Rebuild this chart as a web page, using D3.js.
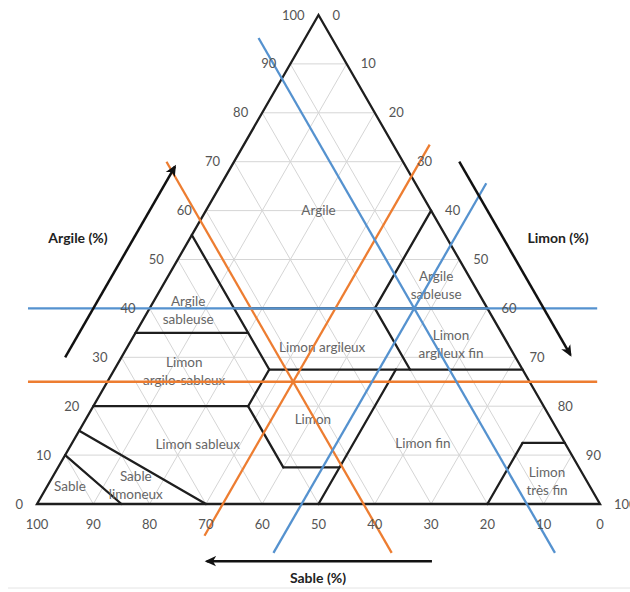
<!DOCTYPE html>
<html>
<head>
<meta charset="utf-8">
<script src="https://cdn.jsdelivr.net/npm/d3@7"></script>
<style>
  body { margin: 0; background: #fff; }
  svg { display: block; font-family: Lato, "Open Sans", sans-serif; }
</style>
</head>
<body>
<svg id="chart" width="630" height="592"></svg>
<script>
// Percentage ticks shared by the three axes
const argileTicks = [0, 10, 20, 30, 40, 50, 60, 70, 80, 90, 100];
const limonTicks  = [0, 10, 20, 30, 40, 50, 60, 70, 80, 90, 100];
const sableTicks  = [100, 90, 80, 70, 60, 50, 40, 30, 20, 10, 0];
const gridLevels  = [10, 20, 30, 40, 50, 60, 70, 80, 90];

// Texture class boundaries: each segment joins two compositions [argile, limon]
const boundaries = [
  [[10, 0],    [0, 15]],      // Sable | Sable limoneux
  [[15, 0],    [0, 30]],      // Sable limoneux | Limon sableux
  [[20, 0],    [20, 27.5]],   // Limon sableux | Limon argilo-sableux
  [[35, 0],    [35, 20]],     // Limon argilo-sableux | Argile sableuse
  [[55, 0],    [27.5, 27.5]], // sable 45 %
  [[27.5, 27.5], [20, 27.5]], // limon 27.5 %
  [[20, 27.5], [7.5, 40]],    // sable 52.5 %
  [[7.5, 40],  [7.5, 50]],    // argile 7.5 %
  [[0, 50],    [27.5, 50]],   // limon 50 %
  [[27.5, 27.5], [27.5, 72.5]], // argile 27.5 %
  [[40, 15],   [40, 60]],     // argile 40 %
  [[60, 40],   [40, 40]],     // limon 40 %
  [[40, 40],   [27.5, 52.5]], // sable 20 %
  [[0, 80],    [12.5, 80]],   // limon 80 %
  [[12.5, 80], [12.5, 87.5]]  // argile 12.5 %
];

// Class names and the composition [argile, limon] where each name sits
const classNames = [
  "Argile", "Argile\nsableuse", "Limon\nargilo-sableux", "Limon argileux",
  "Argile\nsableuse", "Limon\nargileux fin", "Limon", "Limon sableux",
  "Limon fin", "Sable", "Sable\nlimoneux", "Limon\ntrès fin"
];
const classAnchors = [
  [60, 20], [39.5, 7.1], [27.1, 12.6], [32.1, 34.6],
  [44.6, 48.6], [32.7, 57.2], [17.2, 40.4], [12.1, 22.5],
  [12.3, 62.4], [3.5, 4.1], [3.7, 15.7], [4.6, 88.3]
];

// Two samples read on the triangle: [argile, limon, sable]
const sampleNames = ["orange", "bleu"];
const sampleArgile = [25, 40];
const sampleLimon  = [33, 47];
const sampleSable  = [42, 13];
const sampleColors = ["#ed7d31", "#5592cf"];
// Extent of each reading line: horizontal lines in limon, oblique lines in argile
const horizExtent  = [[-14.1, 87], [-21.6, 79.5]];
const sableExtent  = [[70, -10], [95.3, -10]];
const limonExtent  = [[73.5, -6.5], [65.6, -10]];

const svg = d3.select("#chart");

// Horizontal position follows limon + argile/2, vertical follows argile
const xs = d3.scaleLinear().domain([0, 100]).range([37, 600]);
const ys = d3.scaleLinear().domain([0, 100]).range([504, 15]);
const pt = (a, l) => [xs(l + a / 2), ys(a)];
const line = d3.line();

// Light triangular grid
const grid = svg.append("g").attr("stroke", "#d5d5d5").attr("stroke-width", 1).attr("fill", "none");
gridLevels.forEach(v => {
  grid.append("path").attr("d", line([pt(v, 0), pt(v, 100 - v)]));       // argile constant
  grid.append("path").attr("d", line([pt(0, v), pt(100 - v, v)]));       // limon constant
  grid.append("path").attr("d", line([pt(100 - v, 0), pt(0, 100 - v)])); // sable constant
});

// Class boundaries
const bnd = svg.append("g").attr("stroke", "#1e1e1e").attr("stroke-width", 2.3)
  .attr("fill", "none").attr("stroke-linecap", "round").attr("stroke-linejoin", "round");
boundaries.forEach(([p, q]) => bnd.append("path").attr("d", line([pt(p[0], p[1]), pt(q[0], q[1])])));

// Triangle outline
svg.append("path")
  .attr("d", line([pt(0, 0), pt(100, 0), pt(0, 100)]) + "Z")
  .attr("fill", "none").attr("stroke", "#1e1e1e").attr("stroke-width", 2.3)
  .attr("stroke-linejoin", "miter");

// Class names
const lbl = svg.append("g").attr("fill", "#666").attr("font-size", 13.5).attr("text-anchor", "middle");
classNames.forEach((name, i) => {
  const [x, y] = pt(classAnchors[i][0], classAnchors[i][1]);
  const rows = name.split("\n");
  const t = lbl.append("text").attr("x", x).attr("y", y);
  rows.forEach((r, k) => {
    t.append("tspan").attr("x", x)
      .attr("dy", k === 0 ? (-(rows.length - 1) * 9 + 4.5) + "px" : "18px")
      .text(r);
  });
});

// Reading lines for each sample
sampleNames.forEach((n, i) => {
  const g = svg.append("g").attr("stroke", sampleColors[i]).attr("stroke-width", 2.3).attr("fill", "none");
  const a = sampleArgile[i], l = sampleLimon[i], s = sampleSable[i];
  g.append("path").attr("d", line([pt(a, horizExtent[i][0]), pt(a, horizExtent[i][1])]));
  const [c1, c2] = sableExtent[i];
  g.append("path").attr("d", line([pt(c1, 100 - s - c1), pt(c2, 100 - s - c2)]));
  const [d1, d2] = limonExtent[i];
  g.append("path").attr("d", line([pt(d1, l), pt(d2, l)]));
});

// Tick labels
const tk = svg.append("g").attr("fill", "#555").attr("font-size", 13);
argileTicks.forEach(v => {
  const [x, y] = pt(v, 0);
  tk.append("text").attr("x", x - 14).attr("y", y).attr("dy", "0.35em")
    .attr("text-anchor", "end").text(v);
});
limonTicks.forEach(v => {
  const [x, y] = pt(100 - v, v);
  tk.append("text").attr("x", x + 14).attr("y", y).attr("dy", "0.35em")
    .attr("text-anchor", "start").text(v);
});
sableTicks.forEach(v => {
  const [x, y] = pt(0, 100 - v);
  tk.append("text").attr("x", x).attr("y", y + 20).attr("dy", "0.35em")
    .attr("text-anchor", "middle").text(v);
});

// Axis arrows, drawn along the edges outside the triangle
svg.append("defs").append("marker")
  .attr("id", "head").attr("viewBox", "0 -6 12 12").attr("refX", 9).attr("refY", 0)
  .attr("markerWidth", 5).attr("markerHeight", 5).attr("orient", "auto")
  .append("path").attr("d", "M0,-5L11,0L0,5L3,0Z").attr("fill", "#111");
const arr = svg.append("g").attr("stroke", "#111").attr("stroke-width", 2.5).attr("fill", "none");
arr.append("path").attr("d", line([pt(30, -10), pt(69, -10)])).attr("marker-end", "url(#head)");
arr.append("path").attr("d", line([pt(70, 40), pt(30.5, 79.5)])).attr("marker-end", "url(#head)");
arr.append("path").attr("d", line([pt(-11.7, 76), pt(-11.7, 36)])).attr("marker-end", "url(#head)");

// Axis titles
const ttl = svg.append("g").attr("fill", "#222").attr("font-size", 14).attr("font-weight", "bold")
  .attr("text-anchor", "middle");
ttl.append("text").attr("x", 78).attr("y", 238).attr("dy", "0.35em").text("Argile (%)");
ttl.append("text").attr("x", 558).attr("y", 238).attr("dy", "0.35em").text("Limon (%)");
ttl.append("text").attr("x", 318).attr("y", 578).attr("dy", "0.35em").text("Sable (%)");

// Thin rule under the figure
svg.append("line").attr("x1", 8).attr("x2", 630).attr("y1", 588).attr("y2", 588)
  .attr("stroke", "#e4e4e4").attr("stroke-width", 1);
</script>
</body>
</html>
